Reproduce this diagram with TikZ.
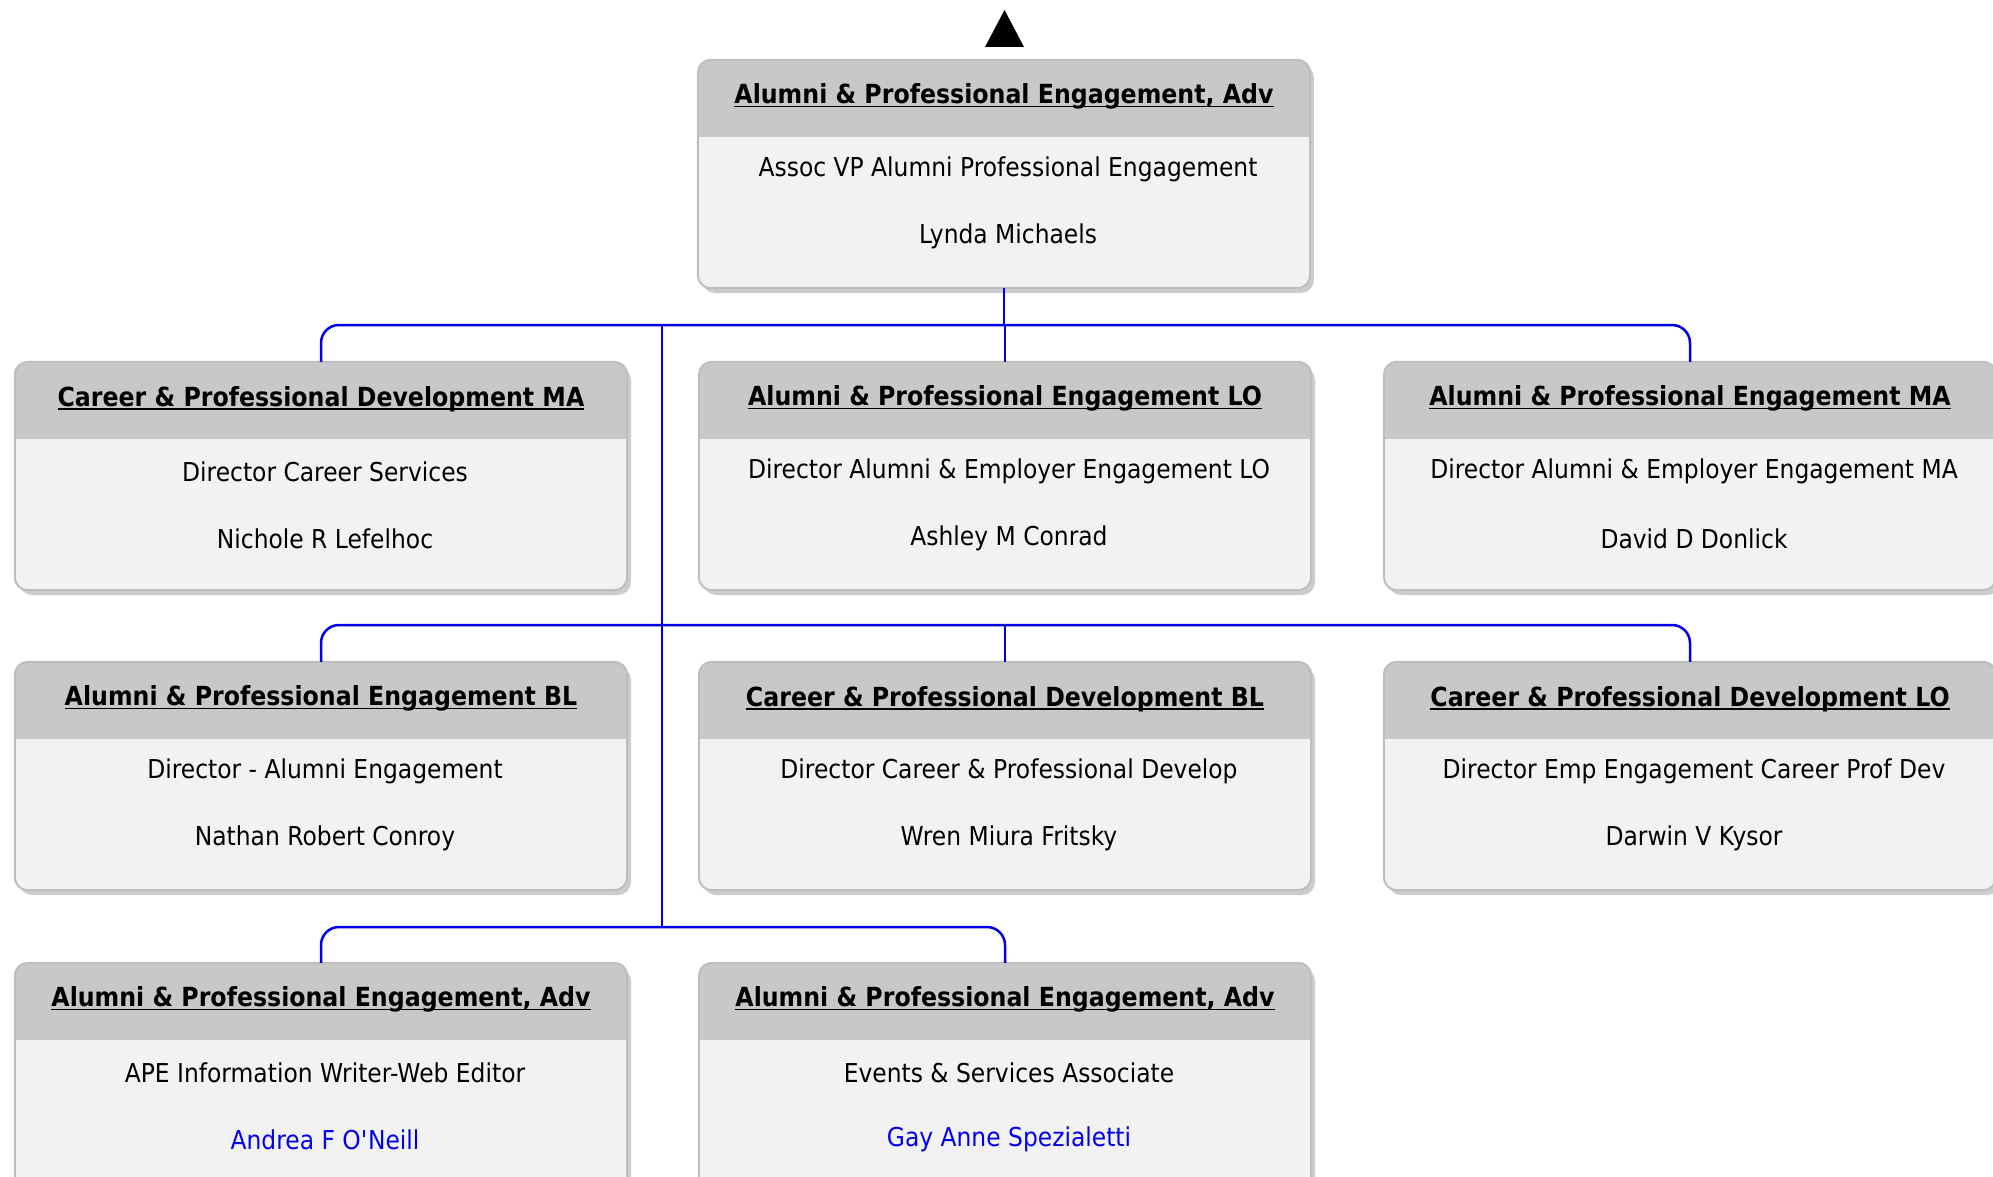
\documentclass[tikz,border=0pt]{standalone}
\usepackage{fontspec}
\setmainfont{DejaVu Sans}[FakeStretch=0.9]
\usetikzlibrary{calc,shadows}
\definecolor{hdrgray}{RGB}{200,200,200}
\definecolor{bodygray}{RGB}{242,242,242}
\definecolor{edgegray}{RGB}{190,190,190}
\definecolor{linkblue}{RGB}{0,0,235}
\def\ttlline#1{\setbox0\hbox{#1}\rlap{\rule[-3.5pt]{\wd0}{1.8pt}}\box0}
\def\orgunit(#1)(#2)#3#4#5#6{%
  \node[unitbox] (#1) at (#2) {};
  \fill[hdrgray] ([yshift=-77pt]#1.north west) [rounded corners=13pt] -- (#1.north west)
    -- (#1.north east) [sharp corners] -- ([yshift=-77pt]#1.north east) -- cycle;
  \draw[unitedge] (#1.north west) rectangle (#1.south east);
  \node[ttl] (#1-t) at ([yshift=-37pt]#1.north) {\ttlline{#3}};
  \node[txt] (#1-r) at ([xshift=4pt,yshift=-110pt]#1.north) {#4};
  \node[txt,text=#6] (#1-p) at ([xshift=4pt,yshift=-177pt]#1.north) {#5};
}
\tikzset{
  unitbox/.style={fill=bodygray, rounded corners=13pt,
    minimum width=612pt, minimum height=228pt, inner sep=0pt,
    drop shadow={shadow xshift=4pt, shadow yshift=-5pt, fill=black, opacity=0.2}},
  unitedge/.style={draw=edgegray, line width=2pt, rounded corners=13pt},
  ttl/.style={font=\fontsize{26.3}{31}\selectfont\bfseries, inner sep=0pt},
  txt/.style={font=\fontsize{26}{31}\selectfont, inner sep=0pt},
  link/.style={draw=linkblue, line width=2.5pt, rounded corners=18pt},
}
\begin{document}
\begin{tikzpicture}[x=1pt, y=-1pt]
		\useasboundingbox (0,0) rectangle (1993,1177);
		%%%%% HEAD %%%%%
		\fill (985,47) -- (1004.5,10) -- (1024,47) -- cycle;
		\orgunit(apeadv)(1004,174){Alumni \& Professional Engagement, Adv}{Assoc VP Alumni Professional Engagement}{Lynda Michaels}{black}
		
		%%%%% ROW 1 %%%%%
		\orgunit(cpdma)(321,476){Career \& Professional Development MA}{Director Career Services}{Nichole R Lefelhoc}{black}
		\orgunit(apelo)(1005,476){Alumni \& Professional Engagement LO}{Director Alumni \& Employer Engagement LO}{Ashley M Conrad}{black}
		\orgunit(apema)(1690,476){Alumni \& Professional Engagement MA}{Director Alumni \& Employer Engagement MA}{David D Donlick}{black}
		
		%%%%% ROW 2 %%%%%
		\orgunit(apebl)(321,776){Alumni \& Professional Engagement BL}{Director - Alumni Engagement}{Nathan Robert Conroy}{black}
		\orgunit(cpdbl)(1005,776){Career \& Professional Development BL}{Director Career \& Professional Develop}{Wren Miura Fritsky}{black}
		\orgunit(cpdlo)(1690,776){Career \& Professional Development LO}{Director Emp Engagement Career Prof Dev}{Darwin V Kysor}{black}
		
		%%%%% ROW 3 %%%%%
		\orgunit(apewriter)(321,1077){Alumni \& Professional Engagement, Adv}{APE Information Writer-Web Editor}{Andrea F O\textquotesingle Neill}{linkblue}
		\orgunit(apeevents)(1005,1077){Alumni \& Professional Engagement, Adv}{Events \& Services Associate}{Gay Anne Spezialetti}{linkblue}
		
		%%%%% LINKS %%%%%
		\coordinate (bus1) at (0,325);
		\coordinate (bus2) at (0,625);
		\coordinate (bus3) at (0,927);
		\coordinate (trunk) at (662,325);
		\draw[link] (apeadv.south) -- (apeadv.south |- bus1);
		\draw[link] (cpdma.north) -- (cpdma.north |- bus1) -- (apema.north |- bus1) -- (apema.north);
		\draw[link] (apelo.north) -- (apelo.north |- bus1);
		\draw[link] (trunk) -- (trunk |- bus3);
		\draw[link] (apebl.north) -- (apebl.north |- bus2) -- (cpdlo.north |- bus2) -- (cpdlo.north);
		\draw[link] (cpdbl.north) -- (cpdbl.north |- bus2);
		\draw[link] (apewriter.north) -- (apewriter.north |- bus3) -- (apeevents.north |- bus3) -- (apeevents.north);
\end{tikzpicture}
\end{document}
